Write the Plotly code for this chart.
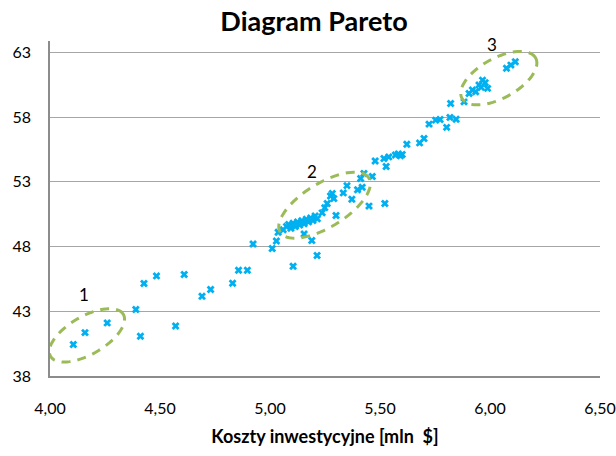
import numpy as np
import plotly.graph_objects as go

# Data (Koszty inwestycyjne [mln $] vs objective value)
koszty = [
    4.106, 4.159, 4.260, 4.390, 4.411, 4.571, 4.427, 4.484, 4.610, 4.691,
    4.730, 4.830, 4.857, 4.897, 4.923, 5.010, 5.029, 5.037, 5.105, 5.214,
    5.190, 5.155, 5.060, 5.075, 5.085, 5.095, 5.105, 5.115, 5.125, 5.135,
    5.145, 5.155, 5.165, 5.175, 5.185, 5.195, 5.205, 5.215, 5.237, 5.249,
    5.260, 5.275, 5.290, 5.300, 5.283, 5.333, 5.350, 5.372, 5.398, 5.419,
    5.412, 5.427, 5.465, 5.450, 5.478, 5.522, 5.528, 5.518, 5.540, 5.570,
    5.583, 5.593, 5.601, 5.622, 5.680, 5.700, 5.723, 5.753, 5.773, 5.803,
    5.818, 5.846, 5.821, 5.882, 5.905, 5.920, 5.935, 5.950, 5.966, 5.978,
    5.989, 5.960, 6.075, 6.095, 6.115,
]
wartosc = [
    40.43, 41.35, 42.10, 43.13, 41.07, 41.86, 45.14, 45.73, 45.84, 44.16,
    44.68, 45.16, 46.17, 46.17, 48.20, 47.85, 48.43, 49.10, 46.48, 47.30,
    48.46, 48.97, 49.30, 49.55, 49.70, 49.40, 49.80, 49.55, 49.90, 49.65,
    50.00, 49.75, 50.10, 49.90, 50.20, 50.00, 50.35, 50.15, 50.60, 51.00,
    51.32, 51.90, 51.70, 50.40, 52.10, 52.14, 52.70, 51.65, 52.38, 52.58,
    53.25, 53.64, 53.40, 51.12, 54.60, 51.32, 54.18, 54.80, 54.92, 55.06,
    55.15, 55.00, 55.10, 55.90, 56.00, 56.34, 57.45, 57.76, 57.81, 57.20,
    57.97, 57.83, 59.05, 59.17, 59.82, 60.08, 59.95, 60.47, 60.85, 60.64,
    60.21, 60.30, 61.76, 62.01, 62.27,
]

x_ticks = [4.0, 4.5, 5.0, 5.5, 6.0, 6.5]
y_ticks = [38, 43, 48, 53, 58, 63]

# Highlighted groups: label, centre (data units), semi-axes (px), tilt (deg)
group_labels = ["1", "2", "3"]
group_centres = [(4.168, 41.14), (5.248, 51.19), (6.04, 61.0)]
group_axes = [(42, 19), (52, 22), (42, 20)]
group_tilt = [30, 31.5, 28.7]
label_pos = [(4.155, 44.3), (5.189, 53.8), (6.008, 63.63)]

# Layout geometry
W, H = 616, 456
ml, mr, mt, mb = 50, 16, 41, 80
x_range = [4.0, 6.5]
y_range = [38, 63.87]
px_x = (W - ml - mr) / (x_range[1] - x_range[0])
px_y = (H - mt - mb) / (y_range[1] - y_range[0])

fig = go.Figure()
fig.add_trace(go.Scatter(
    x=koszty, y=wartosc, mode="markers",
    marker=dict(symbol="x", size=7, color="#00B0F0", line=dict(width=0)),
    showlegend=False, hoverinfo="x+y", cliponaxis=False,
))

shapes = []
t = np.linspace(0, 2 * np.pi, 80)
for (cx, cy), (a, b), ang in zip(group_centres, group_axes, group_tilt):
    th = np.radians(ang)
    ex = a * np.cos(t) * np.cos(th) - b * np.sin(t) * np.sin(th)
    ey = a * np.cos(t) * np.sin(th) + b * np.sin(t) * np.cos(th)
    xs = cx + ex / px_x
    ys = cy + ey / px_y
    path = "M " + " L ".join(f"{xx:.5f},{yy:.5f}" for xx, yy in zip(xs, ys)) + " Z"
    shapes.append(dict(type="path", path=path, xref="x", yref="y",
                       line=dict(color="#9BBB59", width=3, dash="9px,7px")))

annotations = []
for lab, (lx, ly) in zip(group_labels, label_pos):
    annotations.append(dict(x=lx, y=ly, xref="x", yref="y", text=lab,
                            showarrow=False, font=dict(family="Lato", size=17, color="#000000")))

fig.update_layout(
    width=W, height=H,
    margin=dict(l=ml, r=mr, t=mt, b=mb, autoexpand=False),
    paper_bgcolor="white", plot_bgcolor="white",
    separators=", ",
    title=dict(text="<b>Diagram Pareto</b>", x=314 / W, xref="container", xanchor="center",
               y=1 - 22 / H, yref="container", yanchor="middle",
               font=dict(family="Lato", size=27, color="#000000")),
    shapes=shapes,
    annotations=annotations,
    xaxis=dict(range=x_range, tickvals=x_ticks, tickformat=".2f", automargin=False,
               showgrid=False, zeroline=False,
               showline=True, linecolor="#8C8C8C", linewidth=1.5,
               ticks="", tickfont=dict(family="Lato", size=16, color="#000000"),
               ticklabelstandoff=17,
               title=dict(text="<b>Koszty inwestycyjne [mln  $]</b>",
                          font=dict(family="Lato", size=18, color="#000000"), standoff=14)),
    yaxis=dict(range=y_range, tickvals=y_ticks, automargin=False,
               showgrid=True, gridcolor="#A6A6A6", gridwidth=1, zeroline=False,
               showline=True, linecolor="#8C8C8C", linewidth=1.5,
               ticks="", tickfont=dict(family="Lato", size=16, color="#000000"),
               ticklabelstandoff=14),
)

fig.write_html("out.html", config={"displayModeBar": False},
               post_script="document.body.style.margin='0';")
